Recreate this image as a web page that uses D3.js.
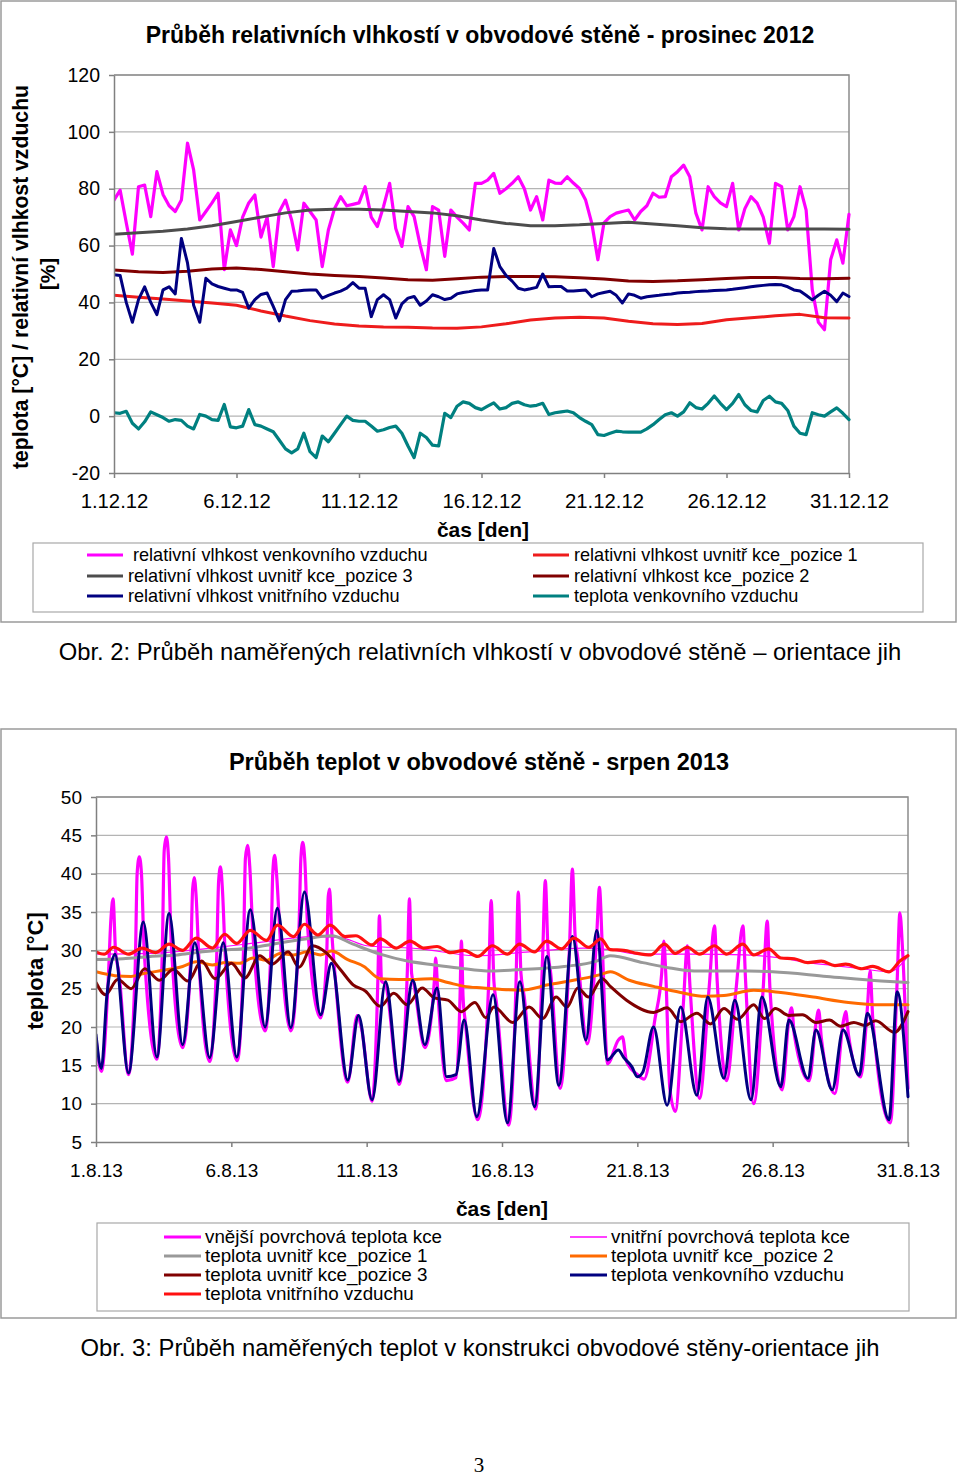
<!DOCTYPE html>
<html><head><meta charset="utf-8">
<script src="https://cdn.jsdelivr.net/npm/d3@7"></script>
<style>body{margin:0;background:#fff}svg{display:block}</style>
</head><body><svg id="c" width="960" height="1477"></svg>
<script>
// ---------------- DATA: top chart (prosinec 2012), day offsets from 1.12.12 ----------------
const topXTickDays = [0, 5, 10, 15, 20, 25, 30];
const topXTickLabels = ["1.12.12", "6.12.12", "11.12.12", "16.12.12", "21.12.12", "26.12.12", "31.12.12"];
const topYTicks = [-20, 0, 20, 40, 60, 80, 100, 120];

// sampled every 6 hours (0.25 day)
const rhOutdoor = [
  76, 79.5, 68, 57,  80.7, 81.3, 70.2, 86,  78, 74, 72, 76,  96, 86.6, 69, 72,
  75, 78.4, 51.5, 65.5,  60, 70, 75, 77.8,  63, 70, 52.6, 72,  76, 69, 58.5, 74.9,
  72, 69, 52.6, 65.5,  73, 77.2, 74, 74.5,  75, 80.7, 70, 66.7,  73.7, 81.9, 66, 59.7,
  73.7, 70.2, 60, 51.5,  73.7, 72.5, 56.2, 72.5,  70, 67.9, 65.5, 81.9,  81.9, 83, 85.4, 78.4,
  80, 81.9, 84.2, 80,  72.5, 77.2, 69, 83,  82, 81.9, 84.2, 82,  80.1, 76, 67.9, 55,
  68, 70.2, 71.4, 72,  72.5, 69, 72, 74,  78.4, 77, 77.2, 84.2,  86, 88.3, 84.2, 71.4,
  65.5, 80.7, 77.2, 75,  73.7, 81.9, 65.5, 73,  77.2, 74.9, 70, 60.8,  81.9, 80.7, 65.5, 70.2,
  80.7, 72.5, 44.5, 33,  30.4, 55, 62, 53.8,  71
];
const rhIndoorAir = [
  49.7, 49.5, 40.0, 33.0,  41.0, 45.5, 40.0, 35.7,  44.4, 45.5, 43.0, 62.5,  53.9, 39.0, 33.0, 48.5,
  46.5, 45.6, 45.0, 44.4,  44.4, 43.5, 38.0, 41.0,  42.8, 43.3, 38.6, 33.5,  41.0, 43.9, 44.0, 44.3,
  44.4, 44.4, 41.5, 42.5,  43.3, 44.0, 45.0, 47.0,  45.0, 45.0, 35.0, 41.0,  42.7, 41.0, 34.5, 39.5,
  41.5, 42.1, 39.0, 40.5,  42.7, 42.0, 41.0, 41.5,  43.0, 43.5, 43.8, 44.2,  44.4, 44.4, 59.0, 52.6,
  49.5, 47.5, 45.0, 44.4,  44.8, 45.3, 50.0, 45.5,  45.6, 45.6, 44.0, 44.0,  44.2, 44.4, 42.0, 43.0,
  43.5, 43.9, 42.5, 39.8,  43.0, 42.5, 41.5, 42.0,  42.3, 42.5, 42.8, 43.0,  43.3, 43.5, 43.6, 43.8,
  43.9, 44.0, 44.2, 44.3,  44.4, 44.6, 44.9, 45.2,  45.5, 45.8, 46.0, 46.2,  46.3, 46.2, 45.5, 44.4,
  44.0, 42.5, 40.9, 42.5,  43.9, 42.5, 40.3, 43.3,  42.1
];
const tOutdoorDec = [
  1.2, 1.0, 1.7, -2.5,  -4.5, -2.0, 1.5, 0.5,  -0.5, -1.8, -1.2, -1.5,  -3.5, -4.5, 0.6, 0.0,
  -1.2, -1.5, 4.1, -3.8,  -4.1, -3.5, 2.3, -3.0,  -3.5, -4.5, -5.5, -8.5,  -11.5, -12.9, -11.5, -6.0,
  -12.5, -14.6, -7.0, -9.0,  -6.0, -3.0, 0.0, -1.5,  -1.8, -1.8, -3.5, -5.3,  -4.8, -4.0, -3.5, -6.0,
  -10.5, -14.6, -6.0, -7.5,  -10.2, -10.5, 1.0, -0.5,  3.5, 5.0, 4.5, 3.0,  2.3, 3.5, 4.7, 2.5,
  3.0, 4.5, 5.0, 4.0,  3.5, 3.8, 4.5, 0.6,  1.2, 1.5, 1.8, 1.2,  -0.5, -1.8, -3.0, -6.5,
  -6.8, -6.0, -5.3, -5.5,  -5.6, -5.6, -5.6, -4.5,  -3.0, -1.2, 0.5, 1.2,  0.0, 1.5, 4.7, 3.0,
  2.5, 4.5, 7.1, 4.5,  2.3, 4.5, 7.6, 4.0,  2.0, 1.5, 5.5, 7.0,  5.0, 4.5, 2.0, -3.5,
  -6.0, -6.5, 1.2, 0.5,  0.0, 1.5, 2.9, 1.0,  -1.2
];
// sampled daily
const rhPos3 = [64.0, 64.5, 65.0, 65.8, 67.0, 68.5, 70.0, 71.5, 72.5, 72.8, 72.8, 72.5, 72.0, 71.5, 70.5, 69.0,
  67.8, 67.0, 67.0, 67.3, 67.8, 68.2, 67.6, 67.0, 66.3, 65.9, 65.8, 65.8, 65.8, 65.8, 65.7];
const rhPos2 = [51.4, 50.8, 50.5, 51.0, 51.8, 52.1, 51.6, 50.8, 50.0, 49.5, 49.1, 48.6, 48.0, 47.8, 48.3, 48.9,
  49.1, 49.1, 49.0, 48.7, 48.2, 47.5, 47.4, 47.6, 48.0, 48.4, 48.8, 48.8, 48.4, 48.3, 48.5];
const rhPos1 = [42.5, 41.8, 41.2, 40.5, 39.8, 39.0, 37.0, 35.2, 33.6, 32.4, 31.7, 31.4, 31.3, 31.0, 30.9, 31.4,
  32.5, 33.8, 34.5, 34.8, 34.5, 33.4, 32.5, 32.2, 32.6, 33.9, 34.6, 35.3, 35.8, 34.6, 34.5];

const topLegendCol1 = ["relativní vlhkost venkovního vzduchu", "relativní vlhkost uvnitř kce_pozice 3", "relativní vlhkost vnitřního vzduchu"];
const topLegendCol2 = ["relativni vlhkost uvnitř kce_pozice 1", "relativní vlhkost kce_pozice 2", "teplota venkovního vzduchu"];

// ---------------- DATA: bottom chart (srpen 2013), [day offset from 1.8.13, °C] ----------------
const botXTickDays = [0, 5, 10, 15, 20, 25, 30];
const botXTickLabels = ["1.8.13", "6.8.13", "11.8.13", "16.8.13", "21.8.13", "26.8.13", "31.8.13"];
const botYTicks = [5, 10, 15, 20, 25, 30, 35, 40, 45, 50];

const tOuterSurface = [
  [0.0,18.5],[0.2,14.2],[0.45,26],[0.55,34],[0.63,36.7],[0.72,30],[0.85,27],[1.2,13.8],
  [1.45,28],[1.52,40],[1.6,42.2],[1.68,40],[1.78,30],[2.25,15.8],
  [2.45,30],[2.52,43],[2.6,44.8],[2.68,42],[2.78,31],[3.2,17.3],
  [3.5,29],[3.57,38],[3.63,39.5],[3.7,37],[3.8,29],[4.2,15.5],
  [4.45,28],[4.53,39],[4.6,40.9],[4.67,38],[4.78,29],[5.22,15.6],
  [5.45,30],[5.52,42],[5.6,43.7],[5.68,41],[5.8,32],[6.25,19.5],
  [6.47,31],[6.53,40],[6.6,42.4],[6.67,40],[6.8,32],[7.2,19.5],
  [7.5,33],[7.57,42],[7.64,44.1],[7.71,42],[7.82,33],[8.3,21.2],
  [8.52,29],[8.58,37],[8.63,38],[8.7,33],[8.85,26],[9.3,12.8],
  [9.65,21.5],[9.8,20],[10.2,10.3],[10.42,27],[10.47,34.5],[10.55,26],[10.7,25.5],[11.2,12.5],
  [11.5,27],[11.58,36.7],[11.66,27],[11.75,25.5],[12.15,17.3],[12.5,26],[12.55,29],[12.62,25],[12.95,13],[13.3,13.4],
  [13.45,24],[13.5,31.2],[13.56,24],[13.65,20.5],[14.1,7.9],
  [14.5,25],[14.6,36.5],[14.7,26],[14.8,23],[15.25,7.2],
  [15.52,26],[15.6,37.6],[15.7,27],[15.82,24],[16.25,9.3],
  [16.5,29],[16.6,39.1],[16.7,30],[16.8,27],[17.15,12.0],
  [17.5,31],[17.6,40.6],[17.7,32],[17.8,29],[18.15,17.8],
  [18.5,32],[18.6,38.2],[18.7,31],[18.9,15.2],[19.3,18.3],[19.45,18.7],[19.6,15.5],[20.0,13.8],[20.25,13.2],
  [20.65,21],[20.9,27],[20.98,31.2],[21.05,27],[21.2,12],[21.4,9.0],
  [21.7,23],[21.85,30.6],[21.95,25],[22.3,10.7],
  [22.65,25],[22.85,33.2],[22.95,26],[23.3,13],
  [23.65,25],[23.9,33.2],[24.0,26],[24.3,10.0],
  [24.65,25],[24.8,33.8],[24.9,25],[25.35,11.8],
  [25.6,21],[25.7,22.5],[25.8,19],[26.35,13],
  [26.6,20.5],[26.7,22.2],[26.8,18.5],[27.3,11.3],
  [27.6,20.5],[27.7,22],[27.8,19],[28.25,13.5],
  [28.5,22.5],[28.6,27.3],[28.7,21],[29.35,7.5],
  [29.6,26],[29.7,34.9],[29.8,30],[30.0,12]
];
const tInnerSurface = [
  [0,29.5],[2,29.6],[4,30.2],[6,31.0],[8,31.8],[9,31.7],[10,30.6],[12,30.2],[14,29.3],[16,29.8],
  [18,30.3],[19,30.1],[20,29.5],[22,29.5],[24,29.4],[25.3,29.0],[26.3,28.4],[27.3,28.0],[28.3,27.6],
  [29.3,27.2],[30,29.2]
];
const tPos1 = [
  [0,28.8],[1,28.9],[2,29.2],[3,29.4],[3.7,29.7],[4.5,30.0],[5.7,30.3],[6.5,30.8],[7.6,31.4],[8.7,31.9],
  [9.5,30.8],[10.5,29.5],[11.5,28.6],[12.5,28.1],[13.4,27.7],[14.6,27.3],[15.7,27.5],[17.3,27.9],[18.5,28.6],
  [19.0,29.3],[20.2,28.4],[21.2,27.7],[22.1,27.3],[24.1,27.3],[25.0,27.2],[27,26.6],[29,26.0],[30,25.8]
];
const tPos2 = [
  [0,27.2],[0.7,26.7],[1.3,26.6],[1.8,27.0],[2.5,27.4],[3.2,27.9],[3.7,28.5],[4.3,28.1],[4.8,28.4],[5.3,28.3],
  [5.8,29.0],[6.3,28.7],[6.8,29.6],[7.3,29.4],[7.8,29.8],[8.3,29.4],[8.7,29.9],[9.3,28.8],[9.9,27.9],[10.5,26.3],
  [11.2,26.2],[11.8,26.2],[12.4,26.3],[13.0,25.8],[13.6,25.3],[14.3,25.1],[15.0,24.9],[15.7,24.8],[16.7,25.5],
  [17.8,26.2],[18.6,26.8],[19.0,27.2],[19.7,26.1],[20.6,25.3],[21.6,24.5],[22.5,24.0],[23.2,24.1],[24.3,24.8],
  [25.3,24.5],[26.5,23.9],[27.8,23.2],[29.0,22.9],[30,22.9]
];
const tPos3 = [
  [0,25.8],[0.35,24.2],[0.8,26.2],[1.3,25.0],[1.8,27.6],[2.35,26.1],[2.85,27.5],[3.4,26.0],[3.9,28.6],[4.4,26.3],
  [5.0,28.3],[5.5,26.4],[6.05,29.3],[6.5,28.2],[7.1,29.8],[7.5,27.8],[8.0,30.6],[8.5,29.7],[9.05,27.4],[9.5,25.5],
  [9.95,24.7],[10.5,22.7],[11.0,24.4],[11.5,22.9],[12.05,25.1],[12.5,23.8],[13.0,23.5],[13.5,22.0],[14.0,23.2],
  [14.4,21.2],[14.7,22.6],[15.4,20.6],[16.0,22.6],[16.5,21.1],[17.0,23.9],[17.4,22.6],[17.8,25.1],[18.2,23.9],
  [18.7,26.3],[19.0,25.3],[19.6,23.5],[20.6,21.9],[21.1,22.5],[21.6,20.7],[22.2,21.8],[22.7,20.4],[23.2,22.4],
  [23.7,21.0],[24.3,22.9],[24.7,21.1],[25.1,22.4],[25.6,21.5],[26.1,21.6],[26.6,20.6],[27.1,20.9],[27.5,20.1],
  [28.0,20.6],[28.4,20.2],[28.8,20.8],[29.5,19.3],[30,22.0]
];
const tOutdoorAug = [
  [0.0,19.0],[0.2,14.6],[0.4,24],[0.7,29.5],[1.2,14.0],[1.75,33.7],[2.25,16.1],[2.7,34.8],[3.2,17.7],[3.65,31.0],
  [4.2,16.0],[4.7,31.0],[5.2,16.1],[5.7,35.3],[6.25,20.0],[6.7,35.5],[7.2,19.9],[7.7,37.6],[8.3,21.6],[8.7,28.3],
  [9.3,13.1],[9.7,21.5],[10.2,10.5],[10.7,25.9],[11.2,12.9],[11.7,26.1],[12.15,17.7],[12.6,25.1],[12.95,13.5],
  [13.3,13.8],[13.6,20.9],[14.07,8.3],[14.67,24.2],[15.2,7.5],[15.66,25.9],[16.2,9.6],[16.66,29.2],[17.1,12.4],
  [17.6,31.8],[18.1,18.3],[18.5,32.6],[18.9,15.7],[19.3,17.0],[19.5,16.0],[19.8,14.8],[20.0,13.5],[20.2,14.1],
  [20.6,20.0],[21.1,9.8],[21.6,22.6],[22.2,11.1],[22.6,23.9],[23.2,13.3],[23.6,23.5],[24.2,10.5],[24.6,23.9],
  [25.3,12.2],[25.6,20.9],[26.3,13.3],[26.6,19.6],[27.2,11.8],[27.6,19.6],[28.2,13.7],[28.5,21.8],[29.3,7.9],
  [29.6,24.6],[30.0,10.9]
];
const tIndoorAug = [
  [0,29.8],[0.3,29.5],[0.65,30.4],[1.2,29.5],[1.7,30.3],[2.2,29.7],[2.7,30.8],[3.2,30.0],[3.7,31.6],[4.3,30.3],
  [4.75,32.1],[5.2,30.9],[5.7,32.6],[6.3,31.3],[6.7,33.3],[7.3,31.8],[7.7,33.4],[8.2,32.0],[8.65,33.3],[9.2,31.8],
  [9.6,31.9],[10.2,30.7],[10.5,31.5],[11.1,30.3],[11.6,31.2],[12.1,30.3],[12.6,30.5],[13.1,29.7],[13.6,30.0],
  [14.1,29.2],[14.65,30.6],[15.2,29.5],[15.65,30.8],[16.2,29.8],[16.65,31.2],[17.2,30.2],[17.65,31.6],[18.2,30.4],
  [18.65,31.5],[19.0,30.1],[19.5,30.0],[20.0,29.6],[20.5,29.4],[21.0,30.8],[21.4,29.6],[21.85,30.4],[22.3,29.5],
  [22.85,30.6],[23.3,29.5],[23.9,30.8],[24.3,29.4],[24.85,30.2],[25.3,29.0],[25.8,28.9],[26.3,28.4],[26.8,28.6],
  [27.3,28.0],[27.7,28.2],[28.3,27.6],[28.7,27.9],[29.3,27.2],[29.7,28.6],[30,29.3]
];
const botLegendCol1 = ["vnější povrchová teplota kce", "teplota uvnitř kce_pozice 1", "teplota uvnitř kce_pozice 3", "teplota vnitřního vzduchu"];
const botLegendCol2 = ["vnitřní povrchová teplota kce", "teplota uvnitř kce_pozice 2", "teplota venkovního vzduchu"];

// ---------------- RENDER ----------------
const FONT = "'Liberation Sans', Arial, Helvetica, sans-serif";
const svg = d3.select("#c");
svg.append("rect").attr("width", 960).attr("height", 1477).attr("fill", "#fff");

const regular = arr => arr.map((v, i) => [i * 30 / (arr.length - 1), v]);

function txt(x, y, s, size, opts = {}) {
  const t = svg.append("text").attr("x", x).attr("y", y).text(s)
    .attr("font-family", FONT).attr("font-size", size).attr("fill", "#000")
    .attr("text-anchor", opts.anchor || "start");
  if (opts.bold) t.attr("font-weight", "bold");
  if (opts.rotate) t.attr("transform", `rotate(-90 ${x} ${y})`);
  if (opts.family) t.attr("font-family", opts.family);
  return t;
}

function panel(p) {
  svg.append("rect").attr("x", p.frame[0]).attr("y", p.frame[1]).attr("width", p.frame[2]).attr("height", p.frame[3])
    .attr("fill", "none").attr("stroke", "#9a9a9a").attr("stroke-width", 1.5);
  const x = d3.scaleLinear().domain([0, 30]).range([p.plot[0], p.plot[1]]);
  const y = d3.scaleLinear().domain(p.yDomain).range([p.plot[3], p.plot[2]]);
  const g = svg.append("g");
  g.selectAll("line.grid").data(p.yTicks.slice(1)).join("line")
    .attr("x1", p.plot[0]).attr("x2", p.plot[1]).attr("y1", d => y(d)).attr("y2", d => y(d))
    .attr("stroke", "#b4b4b4").attr("stroke-width", 1.2);
  g.append("path").attr("d", `M${p.plot[0]},${p.plot[2]}H${p.plot[1]}V${p.plot[3]}`)
    .attr("fill", "none").attr("stroke", "#8c8c8c").attr("stroke-width", 1.5);
  const clipId = p.id + "clip";
  svg.append("clipPath").attr("id", clipId).append("rect")
    .attr("x", p.plot[0]).attr("y", p.plot[2] - 2).attr("width", p.plot[1] - p.plot[0] + 2).attr("height", p.plot[3] - p.plot[2] + 2);
  const sg = svg.append("g").attr("clip-path", `url(#${clipId})`);
  const line = d3.line().x(d => x(d[0])).y(d => y(d[1])).curve(p.curve);
  p.series.forEach(s => {
    sg.append("path").attr("d", line(s.data)).attr("fill", "none").attr("stroke", s.color)
      .attr("stroke-width", s.width).attr("stroke-linejoin", "round").attr("stroke-linecap", "round");
  });
  const ya = svg.append("g").attr("transform", `translate(${p.plot[0]},0)`)
    .call(d3.axisLeft(y).tickValues(p.yTicks).tickSize(5).tickSizeOuter(0).tickPadding(9).tickFormat(d => String(d)));
  const xa = svg.append("g").attr("transform", `translate(0,${p.plot[3]})`)
    .call(d3.axisBottom(x).tickValues(p.xTickDays).tickSize(5).tickSizeOuter(0).tickPadding(p.xPad)
      .tickFormat((d, i) => p.xTickLabels[i]));
  ya.attr("font-family", FONT).attr("font-size", p.yTickFont);
  xa.attr("font-family", FONT).attr("font-size", p.xTickFont);
  [ya, xa].forEach(a => {
    a.select(".domain").attr("stroke", "#808080").attr("stroke-width", 1.5);
    a.selectAll(".tick line").attr("stroke", "#808080").attr("stroke-width", 1.5);
    a.selectAll(".tick text").attr("fill", "#000");
  });
  svg.append("rect").attr("x", p.legBox[0]).attr("y", p.legBox[1]).attr("width", p.legBox[2]).attr("height", p.legBox[3])
    .attr("fill", "none").attr("stroke", "#a8a8a8").attr("stroke-width", 1.2);
  p.legend.forEach(e => {
    svg.append("line").attr("x1", e.lx).attr("x2", e.lx + p.legLineLen).attr("y1", e.y).attr("y2", e.y)
      .attr("stroke", e.color).attr("stroke-width", e.lw);
    txt(e.tx, e.y + 6, e.label, p.legFont);
  });
}

// ---- Top chart ----
txt(480, 43, "Průběh relativních vlhkostí v obvodové stěně - prosinec 2012", 23, { bold: true, anchor: "middle" });
txt(28, 277, "teplota [°C] / relativní vlhkost vzduchu", 21.2, { bold: true, anchor: "middle", rotate: true });
txt(55, 274, "[%]", 21, { bold: true, anchor: "middle", rotate: true });
txt(483, 537, "čas [den]", 21, { bold: true, anchor: "middle" });

const topColors = { mag: "#ff00ff", red: "#ee1c1c", gray: "#4d4d4d", dred: "#800000", navy: "#000080", teal: "#008080" };
panel({
  id: "top", frame: [1, 1, 955, 621], plot: [114, 849, 75, 473], yDomain: [-20, 120], yTicks: topYTicks,
  xTickDays: topXTickDays, xTickLabels: topXTickLabels, xPad: 16, yTickFont: 19.5, xTickFont: 20.3, curve: d3.curveLinear,
  series: [
    { data: regular(rhOutdoor), color: topColors.mag, width: 3.2 },
    { data: regular(rhPos1), color: topColors.red, width: 3 },
    { data: regular(rhPos3), color: topColors.gray, width: 3 },
    { data: regular(rhPos2), color: topColors.dred, width: 3 },
    { data: regular(rhIndoorAir), color: topColors.navy, width: 3 },
    { data: regular(tOutdoorDec), color: topColors.teal, width: 3.2 }
  ],
  legBox: [33, 543, 890, 69], legLineLen: 36, legFont: 18.1,
  legend: [
    { lx: 87, tx: 133, y: 555, label: topLegendCol1[0], color: topColors.mag, lw: 3 },
    { lx: 87, tx: 128, y: 576, label: topLegendCol1[1], color: topColors.gray, lw: 3 },
    { lx: 87, tx: 128, y: 596, label: topLegendCol1[2], color: topColors.navy, lw: 3 },
    { lx: 533, tx: 574, y: 555, label: topLegendCol2[0], color: topColors.red, lw: 3 },
    { lx: 533, tx: 574, y: 576, label: topLegendCol2[1], color: topColors.dred, lw: 3 },
    { lx: 533, tx: 574, y: 596, label: topLegendCol2[2], color: topColors.teal, lw: 3 }
  ]
});
txt(480, 660, "Obr. 2: Průběh naměřených relativních vlhkostí v obvodové stěně – orientace jih", 23.8, { anchor: "middle" });

// ---- Bottom chart ----
txt(479, 770, "Průběh teplot v obvodové stěně - srpen 2013", 23.5, { bold: true, anchor: "middle" });
txt(43, 971, "teplota [°C]", 22, { bold: true, anchor: "middle", rotate: true });
txt(502, 1216, "čas [den]", 21, { bold: true, anchor: "middle" });

const botColors = { mag: "#ff00ff", gray: "#999999", orange: "#ff6a00", dred: "#800000", navy: "#000080", red: "#ff1010" };
panel({
  id: "bot", frame: [1, 729, 955, 589], plot: [96, 908, 797, 1142], yDomain: [5, 50], yTicks: botYTicks,
  xTickDays: botXTickDays, xTickLabels: botXTickLabels, xPad: 17, yTickFont: 19, xTickFont: 19, curve: d3.curveMonotoneX,
  series: [
    { data: tOuterSurface, color: botColors.mag, width: 3.2 },
    { data: tInnerSurface, color: botColors.mag, width: 1.2 },
    { data: tPos1, color: botColors.gray, width: 3 },
    { data: tPos2, color: botColors.orange, width: 3 },
    { data: tPos3, color: botColors.dred, width: 3 },
    { data: tOutdoorAug, color: botColors.navy, width: 3 },
    { data: tIndoorAug, color: botColors.red, width: 3.2 }
  ],
  legBox: [97, 1223, 812, 88], legLineLen: 37, legFont: 18.8,
  legend: [
    { lx: 164, tx: 205, y: 1237, label: botLegendCol1[0], color: botColors.mag, lw: 3 },
    { lx: 164, tx: 205, y: 1256, label: botLegendCol1[1], color: botColors.gray, lw: 3 },
    { lx: 164, tx: 205, y: 1275, label: botLegendCol1[2], color: botColors.dred, lw: 3 },
    { lx: 164, tx: 205, y: 1294, label: botLegendCol1[3], color: botColors.red, lw: 3 },
    { lx: 570, tx: 611, y: 1237, label: botLegendCol2[0], color: botColors.mag, lw: 1.5 },
    { lx: 570, tx: 611, y: 1256, label: botLegendCol2[1], color: botColors.orange, lw: 3 },
    { lx: 570, tx: 611, y: 1275, label: botLegendCol2[2], color: botColors.navy, lw: 3 }
  ]
});
txt(480, 1356, "Obr. 3: Průběh naměřených teplot v konstrukci obvodové stěny-orientace jih", 23.8, { anchor: "middle" });
txt(479, 1472, "3", 21, { anchor: "middle", family: "'Liberation Serif', 'Times New Roman', serif" });
</script></body></html>
